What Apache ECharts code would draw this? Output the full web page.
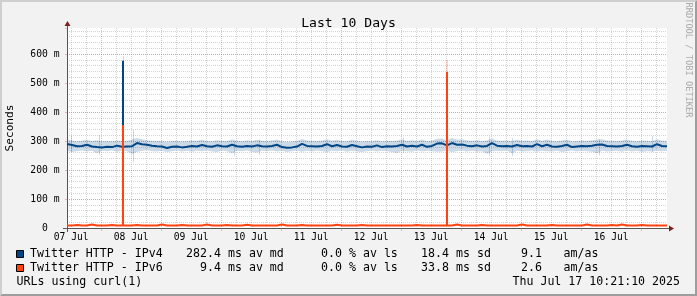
<!DOCTYPE html>
<html>
<head>
<meta charset="utf-8">
<script src="https://cdn.jsdelivr.net/npm/echarts@6.0.0/dist/echarts.min.js"></script>
<style>
html,body{margin:0;padding:0;background:#f2f2f2;}
#c{width:697px;height:296px;}
</style>
</head>
<body>
<div id="c"></div>
<script>
// ---------- DATA (hours since 07 Jul 00:00) ----------
const START_HOUR = 10.35;   // Jul 7 10:21
const END_HOUR = 250.35;    // Jul 17 10:21
const SAMPLE_STEP = 2;      // hours between samples
const Y_MAX = 689.7;        // ms

const dayLabels = ['07 Jul','08 Jul','09 Jul','10 Jul','11 Jul','12 Jul','13 Jul','14 Jul','15 Jul','16 Jul'];
const yTickValues = [0, 100, 200, 300, 400, 500, 600];
const yTickLabels = ['0  ', '100 m', '200 m', '300 m', '400 m', '500 m', '600 m'];

// IPv4 median RTT (ms)
const ipv4Median = [
  290,286,282,283,287,281,279,278,280,279,
  284,280,281,282,293,289,287,284,282,281,
  276,280,281,278,280,283,281,286,282,280,
  285,282,281,287,282,280,283,281,285,282,
  281,283,287,279,277,278,281,290,283,282,
  281,283,289,282,286,281,280,286,282,278,
  281,280,285,279,282,281,283,287,281,284,
  281,287,280,283,291,292,285,293,287,288,
  284,282,285,281,283,293,284,282,283,281,
  286,282,283,281,289,282,287,281,280,283,
  287,279,281,283,282,284,287,288,283,282,
  281,283,287,282,280,283,282,281,289,283,
  282
];
// IPv4 smoke band (ms)
const ipv4Low = [
  266,262,265,267,264,266,258,266,265,267,
  263,266,265,255,262,266,268,265,264,266,
  262,265,267,264,266,263,266,265,267,264,
  262,266,265,258,266,265,267,262,260,266,
  265,267,264,266,262,265,266,263,266,264,
  267,265,262,266,265,267,263,266,264,262,
  265,267,264,266,265,262,259,266,265,263,
  267,264,266,265,263,264,266,262,265,267,
  264,266,263,265,256,264,266,265,267,258,
  266,264,265,267,263,266,265,264,266,262,
  265,267,264,266,265,263,258,266,264,265,
  266,263,267,264,266,262,265,264,266,265,
  266
];
const ipv4High = [
  306,302,299,301,304,300,303,298,300,299,
  302,300,301,305,310,306,303,301,300,299,
  297,300,301,298,300,302,301,304,300,299,
  303,301,300,305,301,299,302,300,304,301,
  300,302,305,299,297,298,300,307,302,301,
  300,302,306,301,304,300,299,304,301,298,
  300,299,303,298,301,300,302,305,300,303,
  300,305,299,302,308,309,303,310,305,306,
  302,301,303,300,302,309,302,301,302,300,
  304,301,302,300,306,301,305,300,299,302,
  305,298,300,302,301,303,305,306,302,301,
  300,302,305,301,299,302,301,300,306,302,
  301
];
// IPv6 median RTT (ms)
const ipv6Median = [
  9,9,10,9,9,12,9,9,9,10,
  9,9,9,9,10,9,9,9,9,12,
  9,9,9,10,9,9,9,9,12,9,
  9,9,10,9,9,9,11,9,9,9,
  9,9,9,12,9,9,9,10,9,9,
  9,9,9,9,11,9,9,9,9,10,
  9,9,9,9,9,9,9,9,9,9,
  10,9,9,9,9,9,9,9,12,9,
  9,9,9,10,9,9,9,9,9,9,
  9,12,9,9,9,9,9,10,9,9,
  9,9,9,9,12,9,9,9,9,10,
  9,12,9,9,9,10,9,9,9,9,
  9
];

// short-lived spikes (hour, from, to)
const ipv4SpikeHour = [32.75];
const ipv4SpikeFrom = [281];
const ipv4SpikeTo   = [577];
const ipv6SpikeHour = [32.75, 162.07];
const ipv6SpikeFrom = [9, 9];
const ipv6SpikeTo   = [355, 538];

// thin smoke streaks
const ipv4StreakHour = [11.9, 23.35, 32.75, 36.75, 77.35, 87.35, 144.75, 179.35, 188.35, 223.35, 244.35];
const ipv4StreakLow  = [262, 252, 265, 228, 250, 252, 258, 248, 248, 250, 262];
const ipv4StreakHigh = [318, 321, 593, 338, 300, 305, 312, 316, 310, 305, 318];
const ipv6StreakHour = [162.07];
const ipv6StreakLow  = [9];
const ipv6StreakHigh = [579];

// legend statistics
const legendNames = ['Twitter HTTP - IPv4', 'Twitter HTTP - IPv6'];
const statMedian = [282.4, 9.4];
const statLoss   = [0.0, 0.0];
const statSd     = [18.4, 33.8];
const statAmAs   = [9.1, 2.6];
const footerLeft = 'URLs using curl(1)';
const footerRight = 'Thu Jul 17 10:21:10 2025';

// ---------- STYLE ----------
const C4 = '#004586', C6 = '#ff420e';
const SMOKE4 = 'rgba(0,69,134,0.2)', SMOKE6 = 'rgba(255,66,14,0.2)';
const MGRID = 'rgba(222,79,79,0.4)', GRID = 'rgba(143,143,143,0.38)';
const AXIS = '#555555', ARROW = '#801f1f';
const MONO = '"DejaVu Sans Mono", monospace';
const PLOT = {left: 67, top: 28, width: 600, height: 200};
const X0 = PLOT.left, X1 = PLOT.left + PLOT.width, Y0 = PLOT.top + PLOT.height, Y1 = PLOT.top;

// grid positions
const majorHours = [], minorHours = [], labelHours = [];
for (let h = 0; h <= END_HOUR; h += 6) {
  if (h < START_HOUR) continue;
  if (h % 24 === 0) majorHours.push(h); else minorHours.push(h);
}
dayLabels.forEach((_, i) => labelHours.push(12 + 24 * i));

const hours = ipv4Median.map((_, i) => START_HOUR + i * SAMPLE_STEP);
const pairs = arr => arr.map((v, i) => [hours[i], v]);
const segs = (h, a, b) => h.map((t, i) => ({coords: [[t, a[i]], [t, b[i]]]}));
const bandData = hours.map((h, i) => [h, ipv4Low[i], ipv4High[i]]);

// legend graphics
const legendRowY = [254, 268];
const legendEls = [];
legendNames.forEach((n, i) => {
  const y = legendRowY[i];
  const txt = (text, x, align) => ({type: 'text', x: x, y: y, silent: true,
    style: {text: text, font: '11.6px ' + MONO, fill: '#000', align: align || 'left', verticalAlign: 'middle'}});
  legendEls.push({type: 'rect', silent: true, shape: {x: 16.5, y: y - 3.5, width: 7, height: 7},
    style: {fill: i === 0 ? C4 : C6, stroke: '#000', lineWidth: 1}});
  legendEls.push(txt(n, 30));
  legendEls.push(txt(statMedian[i].toFixed(1), 221, 'right'));
  legendEls.push(txt(' ms av md', 221));
  legendEls.push(txt(statLoss[i].toFixed(1), 342, 'right'));
  legendEls.push(txt(' % av ls', 342));
  legendEls.push(txt(statSd[i].toFixed(1), 449, 'right'));
  legendEls.push(txt(' ms sd', 449));
  legendEls.push(txt(statAmAs[i].toFixed(1), 542, 'right'));
  legendEls.push(txt('am/as', 563.5));
});
legendEls.push({type: 'text', x: 16.5, y: 282, silent: true,
  style: {text: footerLeft, font: '11.6px ' + MONO, fill: '#000', align: 'left', verticalAlign: 'middle'}});
legendEls.push({type: 'text', x: 680, y: 282, silent: true,
  style: {text: footerRight, font: '11.6px ' + MONO, fill: '#000', align: 'right', verticalAlign: 'middle'}});

const chart = echarts.init(document.getElementById('c'), null, {renderer: 'canvas'});
chart.setOption({
  animation: false,
  backgroundColor: '#f2f2f2',
  title: {text: 'Last 10 Days', left: 'center', top: 12,
    textStyle: {fontFamily: MONO, fontSize: 13.1, fontWeight: 'normal', color: '#000'}},
  grid: {left: PLOT.left, top: PLOT.top, width: PLOT.width, height: PLOT.height,
    outerBoundsMode: 'none', containLabel: false,
    show: true, backgroundColor: '#ffffff', borderWidth: 0},
  xAxis: [{
    type: 'value', min: START_HOUR, max: END_HOUR, position: 'bottom',
    axisLine: {show: true, onZero: false, lineStyle: {color: AXIS, width: 1}},
    axisTick: {show: true, length: 3, customValues: majorHours, lineStyle: {color: MGRID}},
    splitLine: {show: true, customValues: majorHours, lineStyle: {color: MGRID, width: 1, type: [1, 1]}},
    axisLabel: {customValues: labelHours, margin: 4, color: '#000', fontFamily: MONO, fontSize: 9.7,
      hideOverlap: false,
      formatter: v => dayLabels[Math.round((v - 12) / 24)] || ''}
  }, {
    type: 'value', min: START_HOUR, max: END_HOUR, position: 'bottom',
    axisLine: {show: false}, axisLabel: {show: false},
    axisTick: {show: false, customValues: minorHours},
    splitLine: {show: true, customValues: minorHours, lineStyle: {color: GRID, width: 1, type: [1, 1]}}
  }],
  yAxis: [{
    type: 'value', min: 0, max: Y_MAX, interval: 100, position: 'left',
    axisLine: {show: true, onZero: false, lineStyle: {color: AXIS, width: 1}},
    axisTick: {show: true, length: 2, lineStyle: {color: MGRID}},
    splitLine: {show: true, showMinLine: false, showMaxLine: false, lineStyle: {color: MGRID, width: 1, type: [1, 1]}},
    axisLabel: {customValues: yTickValues, margin: 7.5, color: '#000', fontFamily: MONO, fontSize: 9.7,
      showMinLabel: true, hideOverlap: false,
      formatter: v => yTickLabels[yTickValues.indexOf(Math.round(v))] || ''},
    name: 'Seconds', nameLocation: 'middle', nameGap: 51, nameRotate: 90,
    nameTextStyle: {fontFamily: MONO, fontSize: 11.1, color: '#000'}
  }, {
    type: 'value', min: 0, max: Y_MAX, interval: 20, position: 'left',
    axisLine: {show: false}, axisLabel: {show: false}, axisTick: {show: false},
    splitLine: {show: true, showMinLine: false, showMaxLine: false, lineStyle: {color: GRID, width: 1, type: [1, 1]}}
  }],
  series: [
    {type: 'custom', name: 'smoke', data: bandData, silent: true, z: 1,
      encode: {x: 0, y: [1, 2]},
      renderItem: function (params, api) {
        if (params.dataIndex !== 0) return null;
        const pts = [];
        for (let i = 0; i < bandData.length; i++) pts.push(api.coord([bandData[i][0], bandData[i][2]]));
        for (let i = bandData.length - 1; i >= 0; i--) pts.push(api.coord([bandData[i][0], bandData[i][1]]));
        return {type: 'polygon', shape: {points: pts}, style: {fill: SMOKE4}};
      }},
    {type: 'lines', coordinateSystem: 'cartesian2d', data: segs(ipv4StreakHour, ipv4StreakLow, ipv4StreakHigh),
      silent: true, lineStyle: {color: SMOKE4, width: 1, opacity: 1, curveness: 0}, z: 1},
    {type: 'lines', coordinateSystem: 'cartesian2d', data: segs(ipv6StreakHour, ipv6StreakLow, ipv6StreakHigh),
      silent: true, lineStyle: {color: SMOKE6, width: 2, opacity: 1, curveness: 0}, z: 1},
    {type: 'line', name: 'IPv4', data: pairs(ipv4Median), symbol: 'none', silent: true,
      lineStyle: {color: C4, width: 2}, z: 2},
    {type: 'lines', coordinateSystem: 'cartesian2d', data: segs(ipv4SpikeHour, ipv4SpikeFrom, ipv4SpikeTo),
      silent: true, lineStyle: {color: C4, width: 2, opacity: 1, curveness: 0}, z: 2},
    {type: 'line', name: 'IPv6', data: pairs(ipv6Median), symbol: 'none', silent: true,
      lineStyle: {color: C6, width: 2}, z: 3},
    {type: 'lines', coordinateSystem: 'cartesian2d', data: segs(ipv6SpikeHour, ipv6SpikeFrom, ipv6SpikeTo),
      silent: true, lineStyle: {color: C6, width: 2, opacity: 1, curveness: 0}, z: 3}
  ],
  graphic: [
    {type: 'polygon', silent: true, shape: {points: [[0,296],[2,294],[2,2],[695,2],[697,0],[0,0]]}, style: {fill: '#cfcfcf'}},
    {type: 'polygon', silent: true, shape: {points: [[2,294],[695,294],[695,2],[697,0],[697,296],[0,296]]}, style: {fill: '#9e9e9e'}},
    // axis extensions + arrows
    {type: 'line', silent: true, shape: {x1: X0 - 4, y1: Y0 + 0.5, x2: X0, y2: Y0 + 0.5}, style: {stroke: AXIS, lineWidth: 1}},
    {type: 'line', silent: true, shape: {x1: X1, y1: Y0 + 0.5, x2: X1 + 4, y2: Y0 + 0.5}, style: {stroke: AXIS, lineWidth: 1}},
    {type: 'line', silent: true, shape: {x1: X0 + 0.5, y1: Y0, x2: X0 + 0.5, y2: Y0 + 4}, style: {stroke: AXIS, lineWidth: 1}},
    {type: 'line', silent: true, shape: {x1: X0 + 0.5, y1: Y1 - 4, x2: X0 + 0.5, y2: Y1}, style: {stroke: AXIS, lineWidth: 1}},
    {type: 'polygon', silent: true, shape: {points: [[X1 + 2, Y0 - 2.5],[X1 + 2, Y0 + 3.5],[X1 + 7, Y0 + 0.5]]}, style: {fill: ARROW}},
    {type: 'polygon', silent: true, shape: {points: [[X0 - 2.5, Y1 - 2],[X0 + 3.5, Y1 - 2],[X0 + 0.5, Y1 - 7]]}, style: {fill: ARROW}},
    {type: 'text', silent: true, x: 688.5, y: 60, rotation: -Math.PI / 2,
      style: {text: 'RRDTOOL / TOBI OETIKER', font: '8.7px ' + MONO, fill: '#aaaaaa', align: 'center', verticalAlign: 'middle'}}
  ].concat(legendEls)
});
</script>
</body>
</html>
